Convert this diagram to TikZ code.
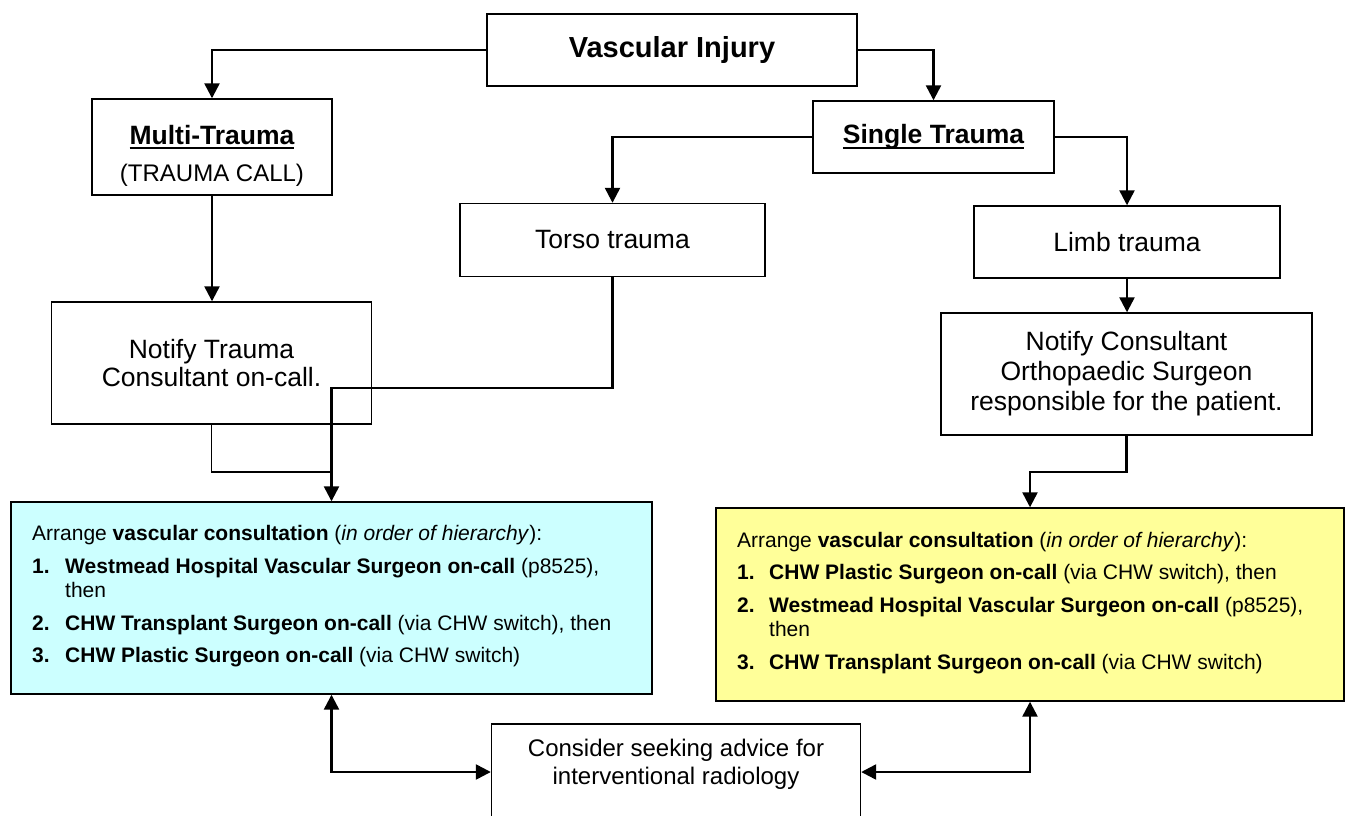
\documentclass[tikz,border=0pt]{standalone}
\usepackage{fontspec}
\setmainfont{Liberation Sans}
\usetikzlibrary{arrows.meta,calc}
\definecolor{bluefill}{HTML}{CCFFFF}
\definecolor{yellowfill}{HTML}{FFFF99}
\newcommand\ulbold[1]{\setbox0\hbox{\bfseries #1}\rlap{\rule[-5pt]{\wd0}{2.2pt}}\box0}
\newcommand\fsTitle{\fontsize{29}{33}\selectfont}
\newcommand\fsMain{\fontsize{26.5}{29}\selectfont}
\newcommand\fsMid{\fontsize{24}{28}\selectfont}
\newcommand\fsList{\fontsize{21}{24}\selectfont}
\begin{document}
\begin{tikzpicture}[x=1pt,y=-1pt,
  box/.style={draw, line width=1.4pt, inner sep=0pt, align=center, font=\fsMain},
  conn/.style={line width=2.4pt, -{Triangle[length=15pt,width=15pt]}},
  conntwo/.style={line width=2.4pt, {Triangle[length=15pt,width=15pt]}-{Triangle[length=15pt,width=15pt]}},
  thinconn/.style={line width=1.4pt}]
\useasboundingbox (0,0) rectangle (1346,816);

\node[box, minimum width=370pt, minimum height=72pt, font=\fsTitle\bfseries] (vi) at (672,50) {Vascular Injury};
\node[box, minimum width=240pt, minimum height=96pt, font=\fsMid] (mt) at (212,147) {{\fsMain\rule{0pt}{36pt}\ulbold{Multi-Trauma}}\\[9pt](TRAUMA CALL)};
\node[box, minimum width=241pt, minimum height=72pt] (st) at (933.5,137) {\ulbold{Single Trauma}};
\node[box, minimum width=305pt, minimum height=73pt] (torso) at (612.5,240) {Torso trauma};
\node[box, minimum width=306pt, minimum height=72pt] (limb) at (1127,242) {Limb trauma};
\node[box, minimum width=320pt, minimum height=122pt, font=\fontsize{26.5}{28}\selectfont] (nt) at (211.5,363) {Notify Trauma\\Consultant on-call.};
\node[box, minimum width=371pt, minimum height=122pt, font=\fontsize{26.5}{30}\selectfont] (ortho) at (1126.5,374) {Notify Consultant\\Orthopaedic Surgeon\\responsible for the patient.};
\node[box, fill=bluefill, minimum width=641pt, minimum height=192pt] (blue) at (331.5,598) {};
\node[box, fill=yellowfill, minimum width=628pt, minimum height=193pt] (yellow) at (1030,604.5) {};
\node[box, minimum width=369pt, minimum height=96pt] (consider) at (676,772) {};

\node[anchor=west, inner sep=0pt, font=\fsList] (btext) at (32,597) {%
\begin{tabular}{@{}p{33pt}@{}l@{}}
\multicolumn{2}{@{}l@{}}{Arrange \textbf{vascular consultation} (\textit{in order of hierarchy}):}\\[9pt]
\textbf{1.} & \textbf{Westmead Hospital Vascular Surgeon on-call} (p8525),\\
 & then\\[9pt]
\textbf{2.} & \textbf{CHW Transplant Surgeon on-call} (via CHW switch), then\\[8pt]
\textbf{3.} & \textbf{CHW Plastic Surgeon on-call} (via CHW switch)
\end{tabular}};
\node[anchor=west, inner sep=0pt, font=\fsList] (ytext) at (737,603.5) {%
\begin{tabular}{@{}p{32pt}@{}l@{}}
\multicolumn{2}{@{}l@{}}{Arrange \textbf{vascular consultation} (\textit{in order of hierarchy}):}\\[8pt]
\textbf{1.} & \textbf{CHW Plastic Surgeon on-call} (via CHW switch), then\\[9pt]
\textbf{2.} & \textbf{Westmead Hospital Vascular Surgeon on-call} (p8525),\\
 & then\\[9pt]
\textbf{3.} & \textbf{CHW Transplant Surgeon on-call} (via CHW switch)
\end{tabular}};
\node[inner sep=0pt, align=center, font=\fsMid] (ctext) at (676,764) {Consider seeking advice for\\interventional radiology};

\draw[conn] (vi.west) -| (mt.north);
\draw[conn] (vi.east) -| (st.north);
\draw[conn] (st.west) -| (torso.north);
\draw[conn] (st.east) -| (limb.north);
\draw[conn] (mt.south) -- (mt.south |- nt.north);
\draw[conn] (limb.south) -- (limb.south |- ortho.north);
\draw[conn] (ortho.south) -- ++(0,36) -| (yellow.north);
\draw[conn] (torso.south) -- ++(0,111) -| (blue.north);
\coordinate (join) at (331.5,472);
\draw[thinconn] (nt.south) |- (join);
\draw[conntwo] (blue.south) |- (consider.west);
\draw[conntwo] (yellow.south) |- (consider.east);
\end{tikzpicture}
\end{document}
